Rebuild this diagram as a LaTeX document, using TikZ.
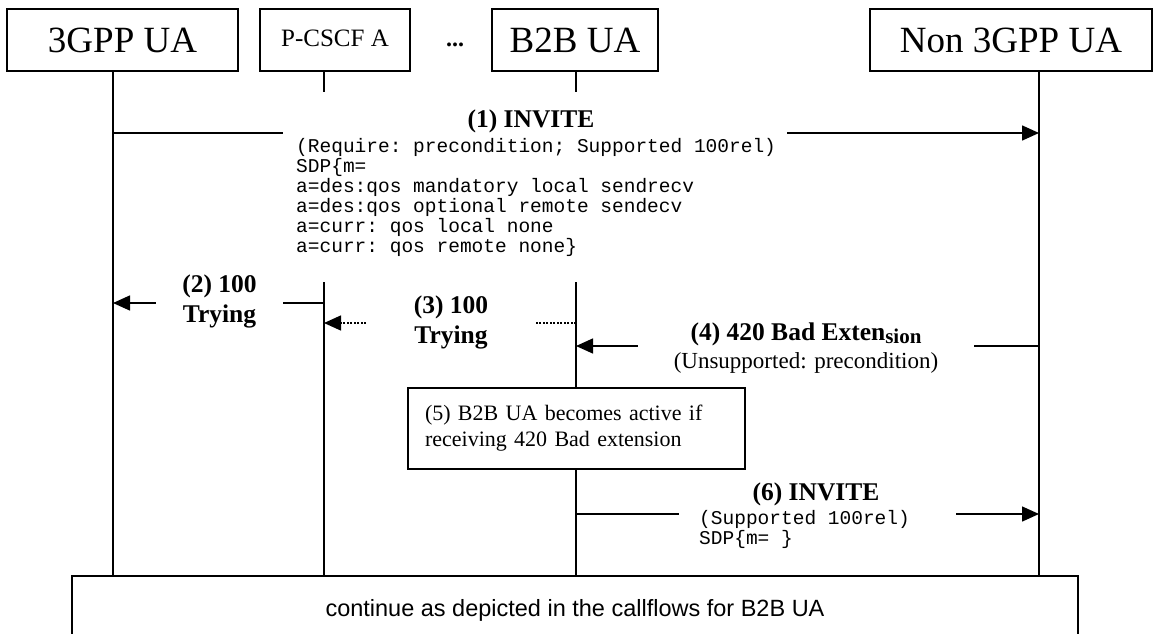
\documentclass[tikz,border=0pt]{standalone}
\usepackage{fontspec}
\setmainfont{Liberation Serif}
\setsansfont{Liberation Sans}
\setmonofont{Liberation Mono}
\usetikzlibrary{arrows.meta}
\begin{document}
\begin{tikzpicture}[x=1pt, y=-1pt,
    actor/.style={draw, line width=1.5pt, minimum height=62pt, inner sep=0pt,
      font=\fontsize{37}{40}\selectfont},
    life/.style={line width=1.5pt},
    msg/.style={line width=1.5pt, -{Triangle[length=17pt,width=15pt]}},
    cover/.style={fill=white, inner sep=0pt},
    head/.style={inner sep=0pt, align=center, font=\fontsize{25.5}{30}\selectfont\bfseries},
    code/.style={inner sep=0pt, align=left, font=\fontsize{19.5}{20}\ttfamily}]
  \useasboundingbox (0,0) rectangle (1154,634);
  \clip (0,0) rectangle (1154,634);
  % participants
  \node[actor, minimum width=231pt] (ua3) at (122.5,40) {3GPP UA};
  \node[actor, minimum width=150pt, font=\fontsize{25}{28}\selectfont] (pcscf) at (335,40) {\raisebox{4pt}{P-CSCF A}};
  \node[font=\fontsize{24}{26}\selectfont\bfseries] (dots) at (455,45) {...};
  \node[actor, minimum width=166pt] (b2b) at (575,40) {B2B UA};
  \node[actor, minimum width=282pt] (ua4) at (1011,40) {Non 3GPP UA};
  % lifelines
  \coordinate (la) at (113,575);
  \coordinate (lb) at (324,575);
  \coordinate (lc) at (576,575);
  \coordinate (ld) at (1039,575);
  \begin{scope}[life]
    \draw (ua3.south -| la) -- (la);
    \draw (pcscf.south -| lb) -- (lb);
    \draw (b2b.south -| lc) -- (lc);
    \draw (ua4.south -| ld) -- (ld);
  \end{scope}
  % message ends
  \coordinate (m1a) at (113,133);
  \coordinate (m1b) at (1039,133);
  \coordinate (m2a) at (324,303);
  \coordinate (m2b) at (113,303);
  \coordinate (m3a) at (576,323);
  \coordinate (m3b) at (324,323);
  \coordinate (m4a) at (1039,346);
  \coordinate (m4b) at (576,346);
  \coordinate (m6a) at (576,514);
  \coordinate (m6b) at (1039,514);
  % (1) INVITE
  \draw[msg] (m1a) -- (m1b);
  \node[cover, minimum width=504pt, minimum height=190pt] (c1) at (535,187) {};
  \node[head] (t1) at (531,121) {(1) INVITE};
  \node[code, anchor=north west] (s1) at (296,138.5) {(Require: precondition; Supported 100rel)\\
    SDP\{m=\\
    a=des:qos mandatory local sendrecv\\
    a=des:qos optional remote sendecv\\
    a=curr: qos local none\\
    a=curr: qos remote none\}};
  % (2) and (3) 100 Trying
  \draw[msg] (m2a) -- (m2b);
  \node[cover, head, minimum width=127pt, minimum height=64pt] (t2) at (219.5,301) {(2) 100\\Trying};
  \draw[msg, dash pattern=on 2pt off 1.5pt] (m3a) -- (m3b);
  \node[cover, head, minimum width=170pt, minimum height=64pt] (t3) at (451,322) {(3) 100\\Trying};
  % (4) 420 Bad Extension
  \draw[msg] (m4a) -- (m4b);
  \node[cover, minimum width=336pt, minimum height=56pt, align=center,
    font=\fontsize{23}{28}\selectfont] (t4) at (806,348)
    {{\fontsize{25.5}{28}\selectfont\bfseries (4) 420 Bad Exten\raisebox{-3pt}{\fontsize{21}{22}\selectfont sion}}\\
     (Unsupported: precondition)};
  % (5) B2B UA takes over
  \node[draw, fill=white, line width=1.5pt, minimum width=337pt, minimum height=81pt,
    text width=303pt, align=left, font=\fontsize{22}{26}\selectfont] (note) at (576.5,428.5)
    {(5) B2B UA becomes active if\\receiving 420 Bad extension};
  % (6) INVITE
  \draw[msg] (m6a) -- (m6b);
  \node[cover, minimum width=277pt, minimum height=70pt] (c6) at (817.5,515) {};
  \node[head] (t6) at (816,494) {(6) INVITE};
  \node[code, anchor=north west] (s6) at (699,510) {(Supported 100rel)\\SDP\{m= \}};
  % rest of the flow
  \node[draw, line width=1.5pt, anchor=north, minimum width=1006pt, minimum height=70pt,
    font=\fontsize{23.5}{26}\sffamily] (cont) at (575,575)
    {continue as depicted in the callflows for B2B UA};
\end{tikzpicture}
\end{document}
